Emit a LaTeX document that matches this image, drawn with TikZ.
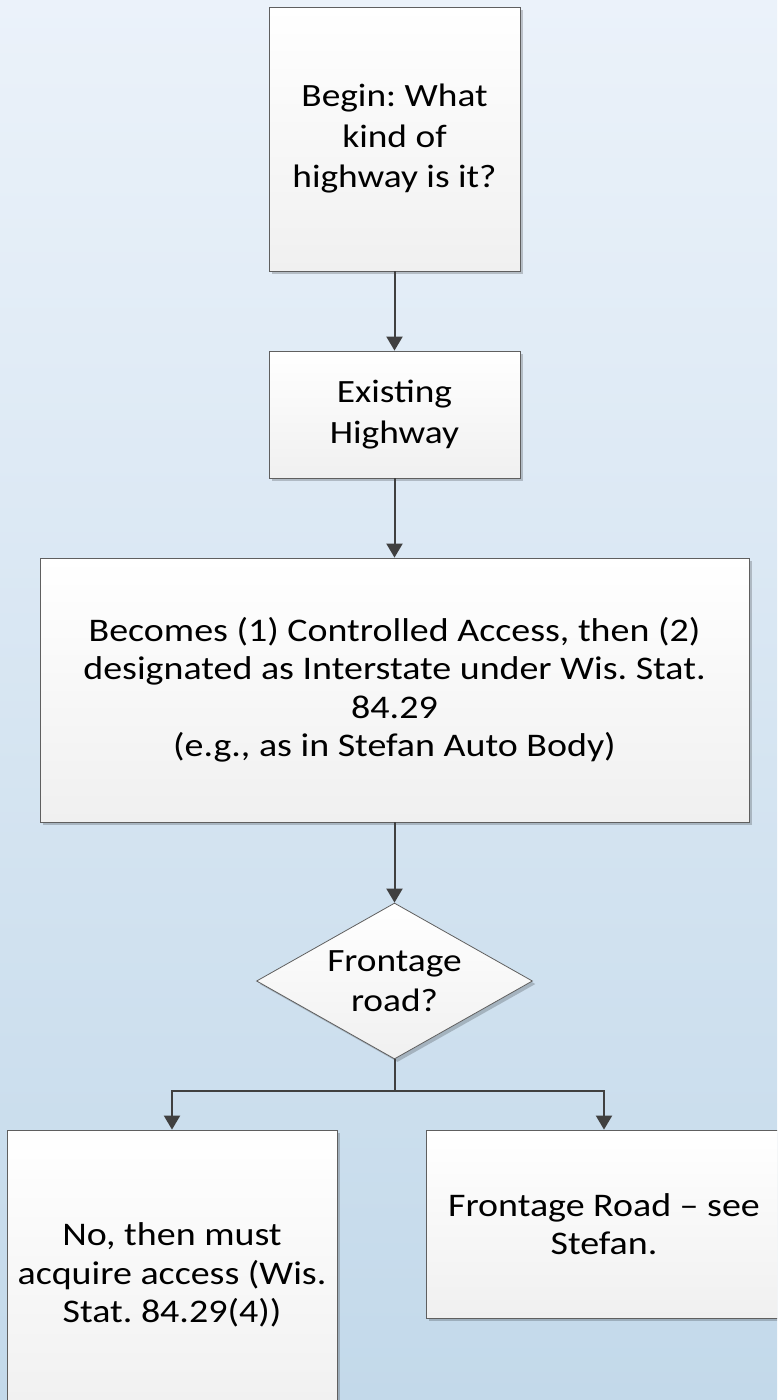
\documentclass[tikz,border=0pt]{standalone}
\usepackage{fontspec}
\setmainfont{Carlito}[FakeStretch=1.15]
\usetikzlibrary{shapes.geometric,arrows.meta,shadows}
\frenchspacing
\definecolor{bgtop}{HTML}{EBF2FA}
\definecolor{bgbot}{HTML}{C3D9EA}
\definecolor{boxline}{HTML}{5F5F5F}
\definecolor{arrowc}{HTML}{404040}
\definecolor{boxbot}{HTML}{F0F0F0}
\tikzset{
  flowbox/.style={draw=boxline, line width=0.8pt, top color=white, bottom color=boxbot,
    align=center, inner sep=0pt,
    drop shadow={shadow xshift=3pt, shadow yshift=-3pt, opacity=0.2, fill=black}},
  decision/.style={flowbox, diamond, aspect=1.77},
  conn/.style={draw=arrowc, line width=2pt},
  arr/.style={conn, -{Triangle[length=14pt,width=16pt]}},
  txtA/.style={font=\fontsize{32.5}{40.5}\selectfont},
  txtB/.style={font=\fontsize{33}{38.5}\selectfont}
}
\begin{document}
\begin{tikzpicture}[x=1pt,y=-1pt]
\useasboundingbox (0,0) rectangle (777,1400);
\clip (0,0) rectangle (777,1400);
\shade[top color=bgtop, bottom color=bgbot] (0,0) rectangle (777,1400);

\node[flowbox, txtA, minimum width=251pt, minimum height=264pt] (begin) at (394.5,139)
  {Begin: What\\kind of\\highway is it?};
\node[flowbox, txtA, minimum width=251pt, minimum height=127pt] (exist) at (394.5,414.5)
  {Existing\\Highway};
\node[flowbox, txtB, minimum width=709pt, minimum height=264pt] (becomes) at (394.5,690)
  {Becomes (1) Controlled Access, then (2)\\designated as Interstate under Wis. Stat.\\84.29\\(e.g., as in Stefan Auto Body)};
\node[decision, txtA, minimum width=276pt, minimum height=156pt] (front) at (394.5,981)
  {Frontage\\road?};
\node[flowbox, txtB, minimum width=330pt, minimum height=290pt] (no) at (172,1275)
  {No, then must\\acquire access (Wis.\\Stat. 84.29(4))};
\node[flowbox, txtB, minimum width=356pt, minimum height=188pt] (yes) at (604,1224)
  {Frontage Road -- see\\Stefan.};

\coordinate (split) at (394.5,1091);
\draw[arr] (begin) -- (exist);
\draw[arr] (exist) -- (becomes);
\draw[arr] (becomes) -- (front);
\draw[conn] (front.south) -- (split);
\draw[arr] (split) -| (no.north);
\draw[arr] (split) -| (yes.north);
\end{tikzpicture}
\end{document}
